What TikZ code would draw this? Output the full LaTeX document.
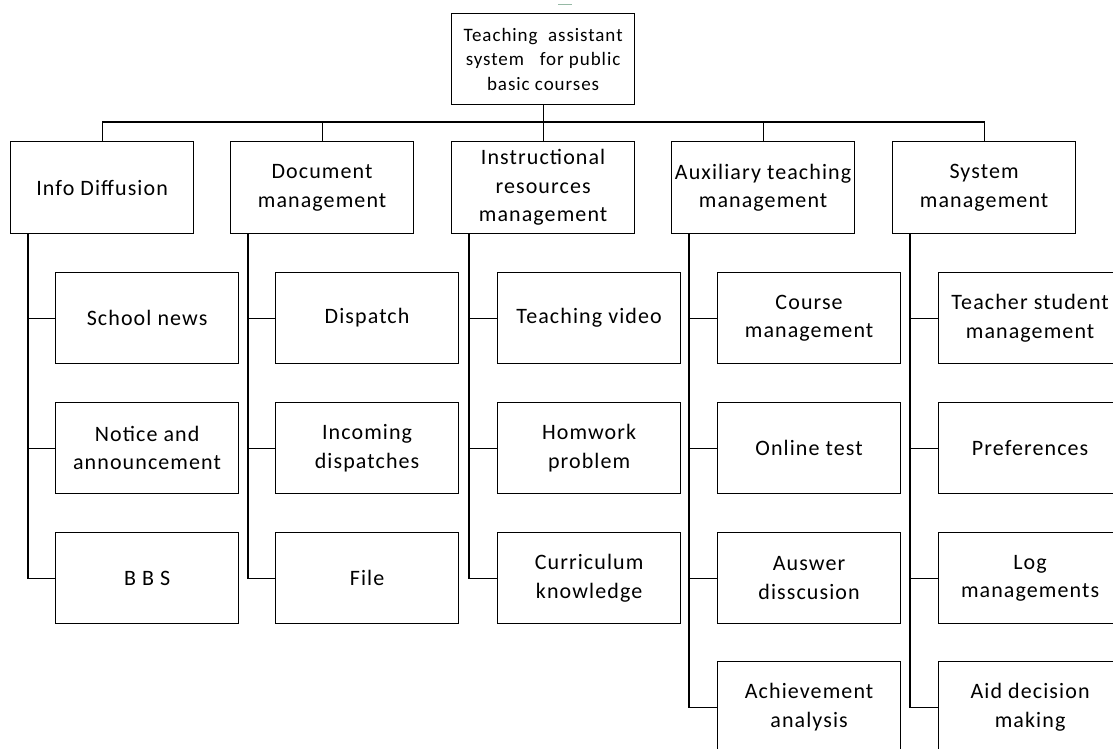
\documentclass[tikz,border=0pt]{standalone}
\usepackage{fontspec}
\setmainfont{Carlito}[LetterSpace=5]
\begin{document}
\begin{tikzpicture}[x=1pt,y=-1pt,
  box/.style={draw=black, line width=1.2pt, fill=white, anchor=north west,
    minimum width=183pt, minimum height=91pt, inner sep=0pt, align=center,
    font=\fontsize{22}{28.5}\selectfont},
  topbox/.style={box, font=\fontsize{19}{24.5}\selectfont},
  link/.style={draw=black, line width=1.2pt}]
\useasboundingbox (0,0) rectangle (1113,749);
\clip (0,0) rectangle (1113,749);
\fill[white] (0,0) rectangle (1113,749);
% small mark at the top
\draw[line width=1.5pt, color={rgb,255:red,150;green,185;blue,165}] (558,4.5) -- (572,4.5);
% root
\node[topbox] (root) at (451,13) {Teaching\ \ assistant\\system\ \ \ for public\\basic courses};
% level 2
\node[box, minimum height=92pt] (n1) at (10,141)  {Info Diffusion};
\node[box, minimum height=92pt] (n2) at (230,141) {Document\\management};
\node[box, minimum height=92pt] (n3) at (451,141) {Instructional\\resources\\management};
\node[box, minimum height=92pt] (n4) at (671,141) {Auxiliary teaching\\management};
\node[box, minimum height=92pt] (n5) at (892,141) {System\\management};
% bus
\coordinate (bus) at (542.5,122);
\draw[link] (root.south) -- (n3.north);
\draw[link] (n1.north) |- (bus) -| (n5.north);
\draw[link] (n2.north) -- (n2.north |- bus);
\draw[link] (n4.north) -- (n4.north |- bus);
% children: Info Diffusion
\node[box] (a1) at (55,272) {School news};
\node[box] (a2) at (55,402) {Notice and\\announcement};
\node[box] (a3) at (55,532) {B B S};
% Document management
\node[box] (b1) at (275,272) {Dispatch};
\node[box] (b2) at (275,402) {Incoming\\dispatches};
\node[box] (b3) at (275,532) {File};
% Instructional resources
\node[box] (c1) at (497,272) {Teaching video};
\node[box] (c2) at (497,402) {Homwork\\problem};
\node[box] (c3) at (497,532) {Curriculum\\knowledge};
% Auxiliary teaching
\node[box] (d1) at (717,272) {Course\\management};
\node[box] (d2) at (717,402) {Online test};
\node[box] (d3) at (717,532) {Auswer\\disscusion};
\node[box] (d4) at (717,661) {Achievement\\analysis};
% System management
\node[box] (e1) at (938,272) {Teacher student\\management};
\node[box] (e2) at (938,402) {Preferences};
\node[box] (e3) at (938,532) {Log\\managements};
\node[box] (e4) at (938,661) {Aid decision\\making};
% stems
\coordinate (sa) at ([xshift=18pt]n1.south west);
\coordinate (sb) at ([xshift=18pt]n2.south west);
\coordinate (sc) at ([xshift=18pt]n3.south west);
\coordinate (sd) at ([xshift=18pt]n4.south west);
\coordinate (se) at ([xshift=18pt]n5.south west);
\foreach \c in {a1,a2,a3} \draw[link] (sa) |- (\c.west);
\foreach \c in {b1,b2,b3} \draw[link] (sb) |- (\c.west);
\foreach \c in {c1,c2,c3} \draw[link] (sc) |- (\c.west);
\foreach \c in {d1,d2,d3,d4} \draw[link] (sd) |- (\c.west);
\foreach \c in {e1,e2,e3,e4} \draw[link] (se) |- (\c.west);
\end{tikzpicture}
\end{document}
